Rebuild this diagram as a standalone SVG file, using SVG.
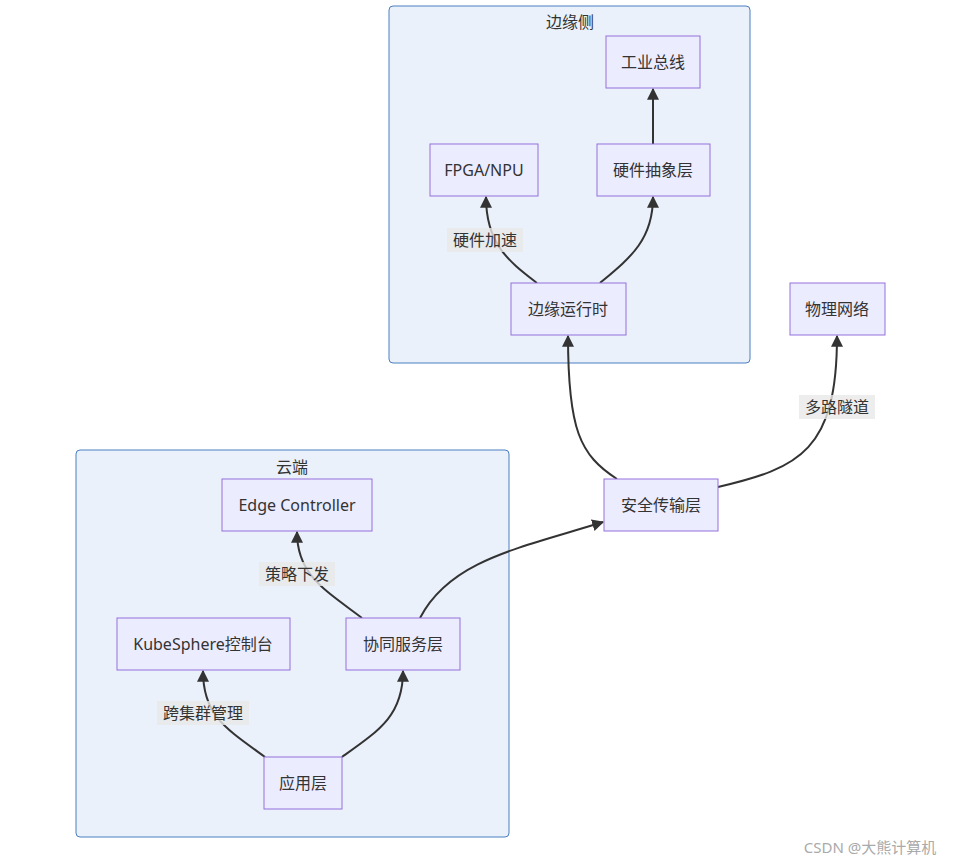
<svg xmlns="http://www.w3.org/2000/svg" width="973" height="864" viewBox="0 0 973 864">
<style>
text{font-family:"Noto Sans","Noto Sans CJK SC",sans-serif;font-size:16px;fill:#333;text-anchor:middle;dominant-baseline:central}
.cl{fill:#eaf1fb;stroke:#4a7fc1;stroke-width:1}
.n{fill:#ececff;stroke:#9370db;stroke-width:1}
.e{fill:none;stroke:#333;stroke-width:2;marker-end:url(#a)}
.lb{fill:#e8e8e8;opacity:0.8}
</style>
<defs><marker id="a" viewBox="0 0 10 10" refX="9" refY="5" markerWidth="6" markerHeight="6" orient="auto"><path d="M0,0L10,5L0,10z" fill="#333"/></marker></defs>
<rect width="973" height="864" fill="#fff"/>
<g id="edge-cluster"><rect class="cl" x="389" y="6" width="361" height="357" rx="4"/><text x="570" y="22">边缘侧</text></g>
<g id="cloud-cluster"><rect class="cl" x="76" y="450" width="433" height="387" rx="4"/><text x="292" y="467">云端</text></g>
<g id="connectors">
<path class="e" d="M537,283 C510,262 486,245 486,197"/>
<path class="e" d="M600,283 C630,258 653,240 653,197"/>
<path class="e" d="M653,144 L653,89"/>
<path class="e" d="M617,479 C580,455 568,430 568,336"/>
<path class="e" d="M718,487 C800,468 837,450 837,336"/>
<path class="e" d="M362,618 C325,590 297,575 297,532"/>
<path class="e" d="M420,618 C450,560 520,548 603,522"/>
<path class="e" d="M265,757 C225,728 203,715 203,671"/>
<path class="e" d="M342,757 C380,730 403,715 403,671"/>
<rect class="lb" x="447" y="228" width="76" height="24"/><text x="485" y="240">硬件加速</text>
<rect class="lb" x="799" y="395" width="76" height="24"/><text x="837" y="407">多路隧道</text>
<rect class="lb" x="259" y="562" width="76" height="24"/><text x="297" y="574">策略下发</text>
<rect class="lb" x="157" y="701" width="92" height="24"/><text x="203" y="713">跨集群管理</text>
</g>
<g id="n1"><rect class="n" x="606" y="36" width="94" height="52"/><text x="653" y="62">工业总线</text></g>
<g id="n2"><rect class="n" x="430" y="144" width="108" height="52"/><text x="484" y="170">FPGA/NPU</text></g>
<g id="n3"><rect class="n" x="597" y="144" width="113" height="52"/><text x="653" y="170">硬件抽象层</text></g>
<g id="n4"><rect class="n" x="511" y="283" width="115" height="52"/><text x="568" y="309">边缘运行时</text></g>
<g id="n5"><rect class="n" x="790" y="283" width="95" height="52"/><text x="837" y="309">物理网络</text></g>
<g id="n6"><rect class="n" x="604" y="479" width="114" height="52"/><text x="661" y="505">安全传输层</text></g>
<g id="n7"><rect class="n" x="222" y="479" width="150" height="52"/><text x="297" y="505">Edge Controller</text></g>
<g id="n8"><rect class="n" x="117" y="618" width="173" height="52"/><text x="203" y="644">KubeSphere控制台</text></g>
<g id="n9"><rect class="n" x="346" y="618" width="114" height="52"/><text x="403" y="644">协同服务层</text></g>
<g id="n10"><rect class="n" x="264" y="757" width="78" height="52"/><text x="303" y="783">应用层</text></g>
<text x="870" y="847" style="fill:#aaa;font-size:15px">CSDN @大熊计算机</text>
</svg>
